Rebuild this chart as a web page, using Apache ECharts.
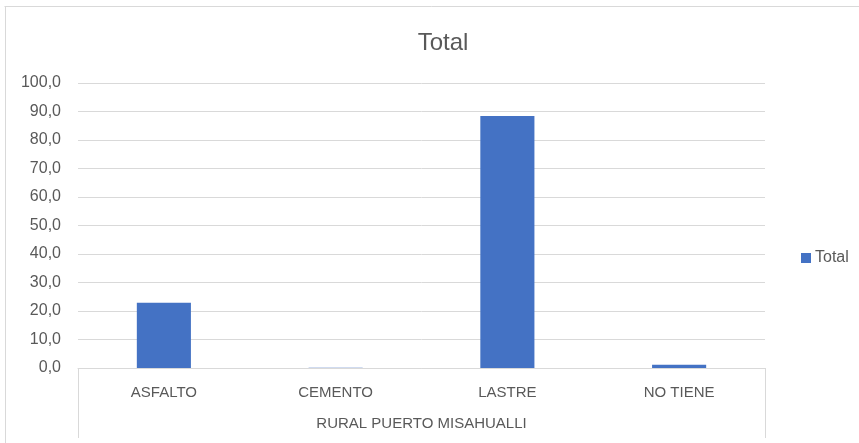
<!DOCTYPE html>
<html><head><meta charset="utf-8">
<script src="https://cdn.jsdelivr.net/npm/echarts@6/dist/echarts.min.js"></script>
<style>html,body{margin:0;padding:0;background:#fff}#c{width:859px;height:443px}</style>
</head><body><div id="c"></div>
<script>
const categories = ['ASFALTO', 'CEMENTO', 'LASTRE', 'NO TIENE'];
const groupLabel = ['RURAL PUERTO MISAHUALLI'];
const totalValues = [22.9, 0.1, 88.4, 1.1];
const seriesName = 'Total';
const yMin = 0, yMax = 100, yStep = 10;

const font = 'Liberation Sans, Arial, sans-serif';
const chart = echarts.init(document.getElementById('c'));
chart.setOption({
  animation: false,
  textStyle: { fontFamily: font },
  title: { text: 'Total', left: 438, top: 26, textAlign: 'center',
    textStyle: { fontSize: 24, fontWeight: 'normal', color: '#595959', fontFamily: font } },
  graphic: [
    { type: 'line', shape: { x1: 4.5, y1: 6.5, x2: 859, y2: 6.5 }, style: { stroke: '#d9d9d9', lineWidth: 1 }, silent: true },
    { type: 'line', shape: { x1: 5.5, y1: 6.5, x2: 5.5, y2: 443 }, style: { stroke: '#d9d9d9', lineWidth: 1 }, silent: true }
  ],
  legend: { data: [seriesName], left: 796, top: 245, icon: 'rect', itemWidth: 10, itemHeight: 10, itemGap: 4,
    textStyle: { fontSize: 16, color: '#595959', fontFamily: font, padding: [0, 0, 0, -1] } },
  grid: { left: 78, right: 94, top: 83, bottom: 75, containLabel: false },
  xAxis: [{
    type: 'category', data: categories, position: 'bottom',
    axisLine: { lineStyle: { color: '#d9d9d9' } },
    axisTick: { show: false },
    axisLabel: { color: '#595959', fontSize: 15, margin: 17, fontFamily: font }
  }, {
    type: 'category', data: groupLabel, position: 'bottom', boundaryGap: true,
    axisLine: { show: false },
    axisTick: { show: true, length: 70, lineStyle: { color: '#d9d9d9' } },
    axisLabel: { color: '#595959', fontSize: 15, margin: 48, fontFamily: font }
  }],
  yAxis: { type: 'value', min: yMin, max: yMax, interval: yStep,
    axisLine: { show: false }, axisTick: { show: false },
    splitLine: { lineStyle: { color: '#d9d9d9' } },
    axisLabel: { color: '#595959', fontSize: 16, margin: 17, fontFamily: font,
      formatter: v => v.toFixed(1).replace('.', ',') } },
  series: [{ name: seriesName, type: 'bar', data: totalValues, xAxisIndex: 0,
    barWidth: '31.5%', itemStyle: { color: '#4472c4' } }]
});
</script></body></html>
